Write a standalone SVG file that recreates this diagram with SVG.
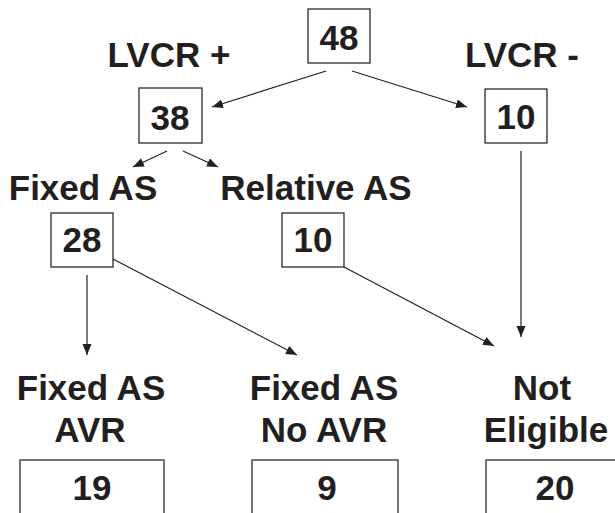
<svg xmlns="http://www.w3.org/2000/svg" width="615" height="513" viewBox="0 0 615 513">
<style>
.box{fill:#fff;stroke:#2b2b2b;stroke-width:1.3}
.t{font-family:"Liberation Sans",Arial,sans-serif;font-weight:bold;font-size:35px;fill:#231f20;text-anchor:middle}
.c{stroke:#231f20;stroke-width:1.2;fill:none;marker-end:url(#ah)}
</style>
<defs>
<marker id="ah" markerUnits="userSpaceOnUse" markerWidth="12" markerHeight="10" refX="11" refY="4.5" orient="auto" viewBox="0 0 12 10">
<path d="M0,0 L11,4.5 L0,9 z" fill="#231f20"/>
</marker>
</defs>
<rect width="615" height="513" fill="#fff"/>
<g id="labels">
<text class="t" x="169" y="67">LVCR +</text>
<text class="t" x="522" y="67">LVCR -</text>
<text class="t" x="83" y="200">Fixed AS</text>
<text class="t" x="316" y="200">Relative AS</text>
<text class="t" x="91" y="400">Fixed AS</text>
<text class="t" x="90" y="442">AVR</text>
<text class="t" x="324" y="400">Fixed AS</text>
<text class="t" x="324" y="442">No AVR</text>
<text class="t" x="542" y="400">Not</text>
<text class="t" x="546" y="442">Eligible</text>
</g>
<g id="n48"><rect class="box" x="308" y="9" width="62" height="54"/><text class="t" x="339" y="50">48</text></g>
<g id="n38"><rect class="box" x="139" y="88" width="63" height="55"/><text class="t" x="170" y="130">38</text></g>
<g id="n10r"><rect class="box" x="485" y="89" width="62" height="54"/><text class="t" x="516" y="129">10</text></g>
<g id="n28"><rect class="box" x="51" y="213" width="62" height="54"/><text class="t" x="82" y="252">28</text></g>
<g id="n10m"><rect class="box" x="282" y="213" width="62" height="54"/><text class="t" x="313" y="252">10</text></g>
<g id="n19"><rect class="box" x="20" y="460" width="144" height="70"/><text class="t" x="92" y="500">19</text></g>
<g id="n9"><rect class="box" x="252" y="460" width="146" height="70"/><text class="t" x="327" y="500">9</text></g>
<g id="n20"><rect class="box" x="486" y="460" width="150" height="70"/><text class="t" x="555" y="500">20</text></g>
<g id="connectors">
<line class="c" x1="326" y1="71" x2="212" y2="107"/>
<line class="c" x1="352" y1="71" x2="467" y2="107"/>
<line class="c" x1="167" y1="151" x2="133" y2="167"/>
<line class="c" x1="183" y1="151" x2="218" y2="167"/>
<line class="c" x1="87" y1="275" x2="87" y2="355"/>
<line class="c" x1="113" y1="259" x2="297" y2="355"/>
<line class="c" x1="344" y1="267" x2="494" y2="346"/>
<line class="c" x1="521" y1="151" x2="521" y2="337"/>
</g>
</svg>
